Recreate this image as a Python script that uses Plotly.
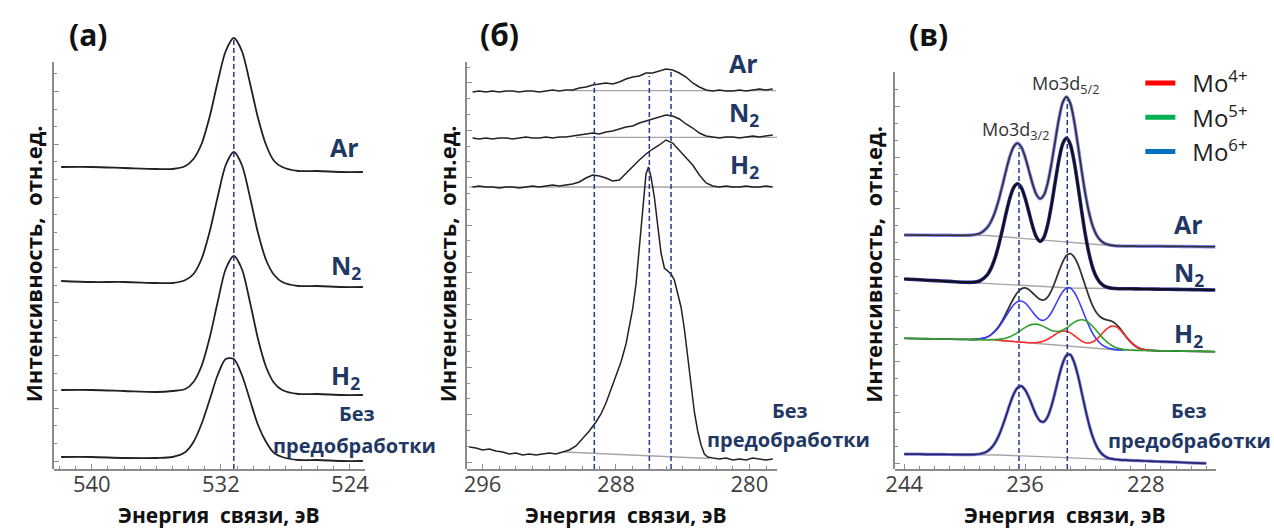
import plotly.graph_objects as go

# ------------------------------------------------------------------
# DATA  (binding energy, eV  /  intensity, arb. units incl. stacking offset)
# ------------------------------------------------------------------
# Panel (а) — O1s
E_a = [541.9, 540, 538, 536, 535, 534.2, 533.7, 533.2, 532.7, 532.2, 531.7,
       531.2, 530.7, 530.2, 529.7, 529.2, 528.7, 528.2, 527.2, 526, 524.5, 523.2]
O1s_Ar = [302, 302, 301, 300, 300, 303, 310, 325, 352, 387, 418, 431, 418, 386, 351, 324, 308, 302, 298, 298, 297, 297]
O1s_N2 = [188, 187, 187, 186, 186, 189, 195, 210, 237, 272, 304, 317, 304, 272, 236, 209, 194, 187, 183, 183, 182, 182]
O1s_H2 = [79, 79, 78, 77, 78, 80, 87, 103, 131, 167, 200, 213, 200, 167, 130, 102, 86, 79, 75, 75, 74, 74]
O1s_raw = [12, 12, 11, 11, 12, 17, 27, 45, 69, 94, 110, 110, 94, 69, 44, 27, 16, 12, 9, 9, 8, 8]
dash_a_E = [531.2]
dash_a_top = [432]

# Panel (б) — C1s
E_b = [296.6, 296.2, 295.8, 295.4, 295.0, 294.6, 294.2, 293.8, 293.4, 293.0, 292.6, 292.2,
       291.8, 291.4, 291.0, 290.6, 290.2, 289.8, 289.4, 289.0, 288.6, 288.2, 287.8, 287.4,
       287.0, 286.6, 286.2, 285.8, 285.4, 285.0, 284.6, 284.2, 283.8, 283.4, 283.0, 282.6,
       282.2, 281.8, 281.4, 281.0, 280.6, 280.2, 279.8, 279.4, 279.0, 278.6]
C1s_Ar = [377, 378, 377, 378, 377, 378, 378, 377, 378, 378, 377, 378, 379, 378, 379, 379,
          381, 382, 384, 385, 386, 385, 387, 390, 392, 393, 396, 396, 398, 400, 399, 396,
          392, 386, 382, 379, 378, 379, 378, 378, 379, 378, 379, 380, 379, 380]
C1s_N2 = [331, 330, 331, 330, 331, 331, 330, 331, 332, 331, 331, 332, 331, 332, 332, 333,
          334, 335, 336, 335, 337, 338, 340, 342, 343, 346, 348, 350, 352, 354, 353, 350,
          345, 341, 336, 333, 332, 331, 332, 332, 331, 332, 333, 332, 333, 334]
C1s_H2 = [282, 283, 282, 282, 281, 282, 282, 281, 282, 283, 282, 283, 284, 283, 284, 285,
          287, 291, 294, 293, 291, 288, 289, 296, 303, 309, 315, 320, 324, 329, 326, 319,
          312, 304, 294, 286, 283, 282, 283, 282, 282, 283, 282, 282, 283, 282]
E_b_raw = [296.8, 296.4, 296.0, 295.6, 295.2, 294.8, 294.4, 294.0, 293.6, 293.2, 292.8, 292.4,
           292.0, 291.6, 291.2, 290.8, 290.4, 290.0, 289.6, 289.2, 288.9, 288.6, 288.3, 288.0,
           287.7, 287.4, 287.2, 287.0, 286.8, 286.6, 286.4, 286.2, 286.05, 285.9, 285.7, 285.5,
           285.3, 285.1, 284.9, 284.7, 284.5, 284.3, 284.1, 283.9, 283.7, 283.5, 283.3, 283.1,
           282.9, 282.7, 282.5, 282.2, 281.8, 281.4, 281.0, 280.6, 280.2, 279.8, 279.4, 279.0, 278.6]
C1s_raw = [22, 21, 19, 20, 18, 17, 15, 16, 14, 15, 14, 15, 16, 15, 17, 19, 23, 30, 38, 47,
           55, 66, 80, 93, 107, 125, 142, 160, 185, 220, 262, 295, 302, 292, 272, 243, 216,
           201, 198, 195, 189, 176, 162, 140, 112, 84, 57, 38, 24, 15, 12, 11, 10, 11, 9,
           10, 9, 11, 10, 9, 10]
bgb_Ar_E, bgb_Ar = [290.8, 278.4], [378.3, 378.3]
bgb_N2_E, bgb_N2 = [290.4, 278.3], [331.7, 331.7]
bgb_H2_E, bgb_H2 = [296.8, 278.7], [282, 282]
bgb_raw_E, bgb_raw = [291.1, 282.4], [17, 10.5]
dash_b_E = [289.3, 286.0, 284.7]
dash_b_top = [387, 393, 399]

# Panel (в) — Mo3d
E_c = [244.0, 243.0, 242.0, 241.0, 240.0, 239.5, 239.0, 238.5, 238.25, 238.0, 237.75, 237.5,
       237.25, 237.0, 236.75, 236.5, 236.25, 236.0, 235.75, 235.5, 235.25, 235.0, 234.75, 234.5,
       234.25, 234.0, 233.75, 233.5, 233.25, 233.0, 232.75, 232.5, 232.25, 232.0, 231.75, 231.5,
       231.25, 231.0, 230.75, 230.5, 230.25, 230.0, 229.75, 229.5, 229.25, 229.0, 228.5, 228.0,
       227.5, 227.0, 226.0, 225.0, 224.0, 223.4]
Mo_Ar = [234.0, 233.9, 233.8, 233.7, 233.6, 234.0, 235.5, 241.5, 247.5, 256.5, 268.6, 283.3,
         298.9, 312.7, 322.3, 325.7, 322.0, 312.3, 298.9, 285.2, 274.6, 270.2, 273.8, 285.8,
         305.1, 328.2, 350.5, 366.6, 372.1, 365.6, 348.4, 324.4, 298.4, 274.7, 255.8, 242.3,
         233.6, 228.6, 225.8, 224.4, 223.6, 223.1, 223.0, 222.9, 222.9, 222.9, 222.8, 222.8,
         222.7, 222.7, 222.6, 222.5, 222.3, 222.3]
Mo_N2 = [190.0, 189.2, 188.4, 187.6, 186.8, 186.7, 188.0, 194.1, 200.6, 210.3, 223.5, 239.2,
         256.0, 271.0, 281.5, 285.3, 281.5, 271.2, 257.2, 242.9, 232.1, 227.6, 231.6, 244.1,
         263.7, 287.1, 309.4, 325.3, 330.9, 324.5, 307.7, 284.0, 258.1, 234.0, 214.6, 200.4,
         191.3, 185.9, 182.9, 181.5, 180.8, 180.5, 180.3, 180.3, 180.2, 180.2, 180.1, 180.0,
         179.9, 179.8, 179.6, 179.4, 179.1, 179.0]
Mo_H2 = [130.7, 130.4, 130.1, 129.8, 129.6, 129.5, 130.0, 132.0, 134.4, 137.8, 142.4, 148.6,
         155.8, 163.5, 170.8, 176.5, 180.1, 181.1, 179.5, 176.0, 172.5, 169.6, 169.0, 171.9,
         178.3, 187.6, 197.9, 207.2, 213.6, 215.4, 212.1, 204.8, 194.4, 183.0, 171.9, 162.6,
         156.0, 152.0, 149.9, 148.9, 147.7, 145.1, 141.3, 136.4, 131.4, 127.0, 121.1, 119.0,
         118.5, 118.2, 118.0, 117.7, 117.5, 117.3]
Mo6_H2 = [None, None, None, None, None, 129.5, 130.0, 131.9, 134.1, 137.3, 141.5, 146.9,
          153.0, 159.0, 164.2, 167.3, 168.0, 166.1, 162.1, 157.0, 152.4, 149.3, 148.7, 151.2,
          156.5, 163.6, 171.1, 177.3, 181.0, 181.0, 177.0, 170.0, 161.0, 151.5, 142.6, 135.1,
          129.5, 125.5, 122.7, 121.1, 120.1, 119.4, 119.1, 118.9, None, None, None, None,
          None, None, None, None, None, None]
Mo5_H2 = [130.7, 130.4, 130.1, 129.8, 129.6, 129.4, 129.3, 129.2, 129.4, 129.5, 129.6, 130.1,
          130.9, 132.3, 134.1, 136.3, 138.9, 141.4, 143.5, 144.6, 144.9, 144.0, 142.4, 140.4,
          138.6, 137.7, 137.7, 138.9, 141.1, 143.9, 146.6, 148.6, 149.3, 148.4, 145.9, 142.3,
          138.0, 133.6, 129.5, 126.1, 123.5, 121.5, 120.4, 119.6, 119.2, 119.0, 118.6, 118.5,
          118.4, 118.2, 118.0, 117.7, 117.5, 117.3]
Mo4_H2 = [None, None, None, None, None, None, None, None, None, 129.0, 128.7, 128.4,
          128.1, 127.8, 127.5, 127.1, 126.8, 126.6, 126.3, 126.2, 126.4, 126.9, 127.9, 129.7,
          132.0, 134.5, 136.7, 137.8, 137.7, 136.1, 133.5, 130.6, 127.9, 126.3, 126.0, 127.2,
          129.9, 133.7, 137.7, 141.1, 142.9, 142.4, 139.8, 135.7, 131.0, 126.8, 121.1, 119.0,
          118.5, None, None, None, None, None]
Mo_raw = [14.9, 14.8, 14.6, 14.5, 14.3, 14.4, 15.0, 17.6, 20.8, 25.7, 33.0, 42.5,
          53.6, 65.0, 74.8, 81.2, 82.8, 79.3, 72.0, 62.5, 53.7, 48.0, 47.3, 52.3,
          62.9, 77.3, 92.7, 105.9, 113.6, 114.2, 106.9, 93.8, 76.9, 59.6, 44.0, 31.5,
          22.5, 16.6, 13.1, 11.1, 10.1, 9.5, 9.2, 8.9, 8.8, 8.6, 8.3, 8.0,
          7.7, 7.4, 6.8, 6.2, 5.6, None]
bgc_Ar_E, bgc_Ar = [244, 238.5, 230, 223.4], [234, 233.5, 223, 222.3]
bgc_N2_E, bgc_N2 = [244, 232.9, 223.4], [190, 181, 179]
bgc_H2_E, bgc_H2 = [244, 238, 229.9, 223.4], [130.7, 129, 119, 117.3]
bgc_raw_E, bgc_raw = [244, 237.7, 224], [14.9, 14, 5.6]
dash_c_E = [236.4, 233.2]
dash_c_top = [321, 369]

legend_names = ["\u2002Mo<sup>4+</sup>", "\u2002Mo<sup>5+</sup>", "\u2002Mo<sup>6+</sup>"]

# ------------------------------------------------------------------
# STYLE / LAYOUT
# ------------------------------------------------------------------
W, H = 1274, 529
FONT = "Open Sans"
NAVY = "#1F3864"
DASH = "#1F3C88"
BLACK = "#222222"
GRAY = "#a6a6a6"
AXC = "#8c8c8c"
RED, GREEN, BLUE = "#ff2b2b", "#2ea02e", "#3c3cff"


def fx(x):
    return x / W


def fy(y):
    return (H - y) / H


fig = go.Figure()


def add(x, y, xa, ya, color, width, dash=None, shape="linear", name=None, legend=False):
    fig.add_trace(go.Scatter(
        x=x, y=y, xaxis=xa, yaxis=ya, mode="lines", name=name,
        showlegend=legend, hoverinfo="skip", connectgaps=False,
        line=dict(color=color, width=width, dash=dash, shape=shape, smoothing=0.8)))


def vlines(xs, tops, xa, ya):
    for xv, tv in zip(xs, tops):
        add([xv, xv], [0, tv], xa, ya, DASH, 1.5, dash="5px,3px")


# panel (а)
for ys in (O1s_Ar, O1s_N2, O1s_H2, O1s_raw):
    add(E_a, ys, "x", "y", BLACK, 1.8, shape="spline")
vlines(dash_a_E, dash_a_top, "x", "y")

# panel (б)
for ex, ys in ((bgb_Ar_E, bgb_Ar), (bgb_N2_E, bgb_N2), (bgb_H2_E, bgb_H2), (bgb_raw_E, bgb_raw)):
    add(ex, ys, "x2", "y2", GRAY, 1.3)
for ys in (C1s_Ar, C1s_N2, C1s_H2):
    add(E_b, ys, "x2", "y2", BLACK, 1.5)
add(E_b_raw, C1s_raw, "x2", "y2", BLACK, 1.5)
vlines(dash_b_E, dash_b_top, "x2", "y2")

# panel (в)
for ex, ys in ((bgc_Ar_E, bgc_Ar), (bgc_N2_E, bgc_N2), (bgc_H2_E, bgc_H2), (bgc_raw_E, bgc_raw)):
    add(ex, ys, "x3", "y3", GRAY, 1.3)
add(E_c, Mo_Ar, "x3", "y3", "#8383f0", 3.4, shape="spline")
add(E_c, Mo_Ar, "x3", "y3", "#303030", 1.6, shape="spline")
add(E_c, Mo_N2, "x3", "y3", "#2a2a9a", 3.6, shape="spline")
add(E_c, Mo_N2, "x3", "y3", "#111111", 2.0, shape="spline")
add(E_c, Mo_H2, "x3", "y3", "#333333", 1.8, shape="spline")
add(E_c, Mo6_H2, "x3", "y3", BLUE, 1.6, shape="spline")
add(E_c, Mo4_H2, "x3", "y3", RED, 1.6, shape="spline")
add(E_c, Mo5_H2, "x3", "y3", GREEN, 1.6, shape="spline")
add(E_c, Mo_raw, "x3", "y3", "#8585dd", 3.2, shape="spline")
add(E_c, Mo_raw, "x3", "y3", "#26266e", 1.7, shape="spline")
vlines(dash_c_E, dash_c_top, "x3", "y3")

# legend entries
for nm, col in zip(legend_names, ["#ff0000", "#00b050", "#0070c0"]):
    add([None], [None], "x3", "y3", col, 5, name=nm, legend=True)

# empty traces so decorative y axes are drawn
for xa, ya in (("x", "y4"), ("x2", "y5"), ("x3", "y6")):
    add([None], [None], xa, ya, "rgba(0,0,0,0)", 1)

tickfont = dict(family=FONT, size=22, color="#404040")


def xaxis(x0, x1, rng, anchor, t0):
    return dict(domain=[fx(x0), fx(x1)], range=rng, anchor=anchor, showline=True,
                linecolor=AXC, linewidth=1.5, ticks="inside", ticklen=5, tickwidth=1.2,
                tickcolor=AXC, tickmode="linear", tick0=t0, dtick=8, ticklabelstandoff=-5,
                minor=dict(ticks="inside", ticklen=3, dtick=1, tick0=0, tickcolor=AXC, tickwidth=1),
                tickfont=tickfont, showgrid=False, zeroline=False, fixedrange=True)


def ydata(anchor):
    return dict(domain=[fy(469), fy(25)], range=[0, 444], anchor=anchor, visible=False,
                fixedrange=True)


def ydeco(anchor, top, dt, mdt, t0):
    return dict(domain=[fy(469), fy(top)], range=[0, 469 - top], anchor=anchor, showline=True,
                linecolor=AXC, linewidth=1.5, ticks="inside", ticklen=5, tickwidth=1.2,
                tickcolor=AXC, tickmode="linear", tick0=t0, dtick=dt, showticklabels=False,
                minor=dict(ticks="inside", ticklen=3, dtick=mdt, tick0=t0, tickcolor=AXC),
                showgrid=False, zeroline=False, fixedrange=True)


fig.update_layout(
    width=W, height=529, margin=dict(l=0, r=0, t=0, b=0),
    paper_bgcolor="white", plot_bgcolor="rgba(0,0,0,0)",
    hovermode=False,
    xaxis=xaxis(45.5, 360, [542.34, 523.05], "y", 524),
    xaxis2=xaxis(462.8, 776, [296.93, 278.34], "y2", 280),
    xaxis3=xaxis(895, 1219, [244.62, 223.38], "y3", 228),
    yaxis=ydata("x"), yaxis2=ydata("x2"), yaxis3=ydata("x3"),
    yaxis4=ydeco("x", 62, 52.8, 17.6, 8),
    yaxis5=ydeco("x2", 62, 47.4, 15.8, 7),
    yaxis6=ydeco("x3", 72, 51, 17, 6),
    legend=dict(x=fx(1143), y=fy(61), xanchor="left", yanchor="top",
                font=dict(family=FONT, size=24, color="#222222"),
                bgcolor="rgba(0,0,0,0)", tracegroupgap=0, itemwidth=30),
)


def txt(x, y, s, size, color=NAVY, bold=True, angle=0):
    fig.add_annotation(x=fx(x), y=fy(y), xref="paper", yref="paper",
                       text=f"<b>{s}</b>" if bold else s, showarrow=False,
                       font=dict(family=FONT, size=size, color=color),
                       xanchor="center", yanchor="middle", textangle=angle, borderpad=0)


# panel letters
txt(80, 35, "(а)", 30, "#111111")
txt(496, 35, "(б)", 30, "#111111")
txt(928.5, 35, "(в)", 30, "#111111")
# axis titles
for xc in (24.5, 442.8, 872.7):
    txt(xc, 264, "Интенсивность,\u00a0 отн.ед.", 22, "#111111", angle=-90)
for xc in (212.5, 623.3, 1066.7):
    txt(xc, 515, "Энергия\u00a0 связи, эВ", 21, "#111111")
# series labels
labels = {
    "a": [(339, 147, "Ar"), (340, 267, "N<sub>2</sub>"), (340, 377, "H<sub>2</sub>")],
    "b": [(742, 62.5, "Ar"), (743, 114, "N<sub>2</sub>"), (743, 165, "H<sub>2</sub>")],
    "c": [(1192, 223.5, "Ar"), (1192, 273, "N<sub>2</sub>"), (1192, 334, "H<sub>2</sub>")],
}
for lst in labels.values():
    for x, y, s in lst:
        txt(x, y, s, 25)
for xb, xp, yb, yp in ((352, 349.5, 413, 445), (789.5, 787.5, 410, 439), (1192.5, 1192.5, 410, 440)):
    txt(xb, yb, "Без", 20)
    txt(xp, yp, "предобработки", 20)
# Mo3d labels
txt(1017, 130, "Mo3d<sub>3/2</sub>", 18, "#333333", bold=False)
txt(1067, 85, "Mo3d<sub>5/2</sub>", 18, "#333333", bold=False)

fig.write_html("out.html")
